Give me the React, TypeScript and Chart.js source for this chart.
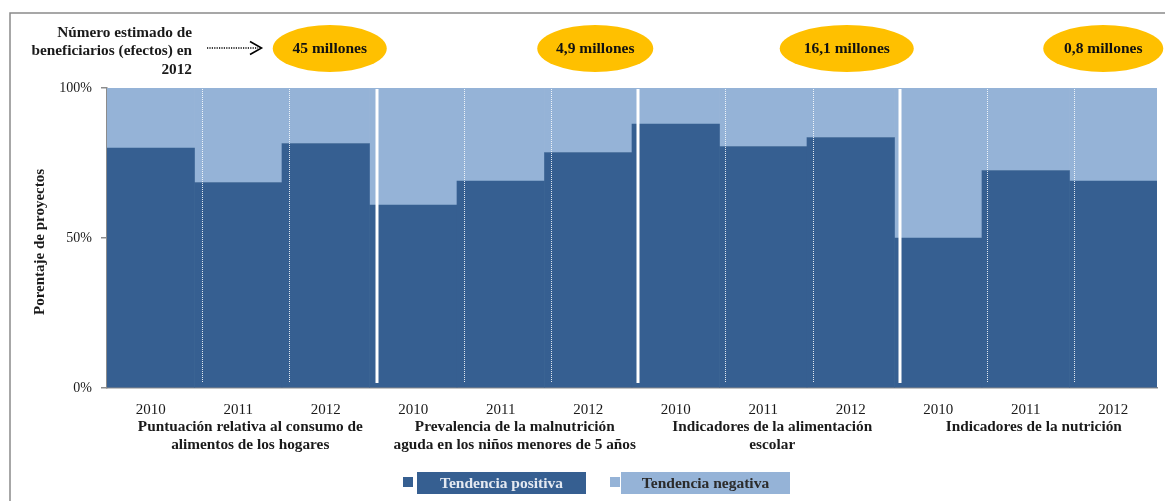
import React, { useEffect, useRef } from "react";
import { Chart, registerables } from "chart.js";
Chart.register(...registerables);

const years = ["2010", "2011", "2012", "2010", "2011", "2012", "2010", "2011", "2012", "2010", "2011", "2012"];
const positiveTrend = [80, 68.5, 81.5, 61, 69, 78.5, 88, 80.5, 83.5, 50, 72.5, 69];
const negativeTrend = [20, 31.5, 18.5, 39, 31, 21.5, 12, 19.5, 16.5, 50, 27.5, 31];
const groupLabels = [
  ["Puntuación relativa al consumo de", "alimentos de los hogares"],
  ["Prevalencia de la malnutrición", "aguda en los niños menores de 5 años"],
  ["Indicadores de la alimentación", "escolar"],
  ["Indicadores de la nutrición"],
];
const beneficiaries = ["45 millones", "4,9 millones", "16,1 millones", "0,8 millones"];
const beneficiariesTitle = ["Número estimado de", "beneficiarios (efectos) en", "2012"];
const yTicks = [0, 50, 100];
const yTitle = "Porentaje de proyectos";
const seriesNames = ["Tendencia positiva", "Tendencia negativa"];

const DARK = "#365F91";
const LIGHT = "#95B3D7";
const FONT = "'Liberation Serif', serif";

const decor = {
  id: "decor",
  afterDatasetsDraw(chart: any) {
    const { ctx, chartArea } = chart;
    const n = years.length;
    const w = (chartArea.right - chartArea.left) / n;
    ctx.save();
    for (let i = 1; i < n; i++) {
      const px = Math.round(chartArea.left + i * w + 8 - i * 0.3);
      ctx.beginPath();
      if (i % 3 === 0) {
        ctx.strokeStyle = "#ffffff";
        ctx.lineWidth = 3;
        ctx.setLineDash([]);
      } else {
        ctx.strokeStyle = "rgba(255,255,255,0.85)";
        ctx.lineWidth = 1;
        ctx.setLineDash([1, 1]);
      }
      const off = i % 3 === 0 ? 0 : 0.5;
      ctx.moveTo(px + off, chartArea.top + 1);
      ctx.lineTo(px + off, chartArea.bottom - 5);
      ctx.stroke();
    }
    ctx.restore();
  },
  afterDraw(chart: any) {
    const { ctx, scales } = chart;
    const x = scales.x;
    ctx.save();
    // outer border
    ctx.strokeStyle = "#8a8a8a";
    ctx.lineWidth = 1.5;
    ctx.beginPath();
    ctx.moveTo(10, 520);
    ctx.lineTo(10, 13);
    ctx.lineTo(1200, 13);
    ctx.stroke();

    // group labels
    ctx.fillStyle = "#1a1a1a";
    ctx.font = `bold 15.3px ${FONT}`;
    ctx.textAlign = "center";
    ctx.textBaseline = "middle";
    const groupOffsets = [12, 14, 9, 8];
    groupLabels.forEach((lines, g) => {
      const cx = x.getPixelForValue(g * 3 + 1) + groupOffsets[g];
      lines.forEach((ln, k) => ctx.fillText(ln, cx, 427 + k * 18.5));
    });

    // y title
    ctx.save();
    ctx.translate(40, 242);
    ctx.rotate(-Math.PI / 2);
    ctx.font = `bold 15px ${FONT}`;
    ctx.fillText(yTitle, 0, 0);
    ctx.restore();

    // beneficiaries heading
    ctx.textAlign = "right";
    ctx.font = `bold 15.3px ${FONT}`;
    beneficiariesTitle.forEach((ln, k) => ctx.fillText(ln, 192, 33 + k * 18.5));

    // arrow
    ctx.strokeStyle = "#000";
    ctx.lineWidth = 1.3;
    ctx.setLineDash([1.2, 1.2]);
    ctx.beginPath();
    ctx.moveTo(207, 48);
    ctx.lineTo(258, 48);
    ctx.stroke();
    ctx.setLineDash([]);
    ctx.lineWidth = 1.6;
    ctx.beginPath();
    ctx.moveTo(250, 41.5);
    ctx.lineTo(261.5, 48);
    ctx.lineTo(250, 54.5);
    ctx.stroke();

    // ovals
    const ovalDx = [4, 7, -4, -10];
    const ovalRx = [57, 58, 67, 60];
    ctx.textAlign = "center";
    beneficiaries.forEach((t, g) => {
      const cx = x.getPixelForValue(g * 3 + 2) + ovalDx[g];
      ctx.fillStyle = "#FFC000";
      ctx.beginPath();
      ctx.ellipse(cx, 48.5, ovalRx[g], 23.5, 0, 0, Math.PI * 2);
      ctx.fill();
      ctx.fillStyle = "#111";
      ctx.font = `bold 15.5px ${FONT}`;
      ctx.fillText(t, cx, 48.5);
    });

    // legend
    ctx.fillStyle = DARK;
    ctx.fillRect(403, 477, 10, 10);
    ctx.fillRect(417, 472, 169, 22);
    ctx.fillStyle = LIGHT;
    ctx.fillRect(610, 477, 10, 10);
    ctx.fillRect(621, 472, 169, 22);
    ctx.font = `bold 15.5px ${FONT}`;
    ctx.fillStyle = "#e4e9f1";
    ctx.fillText(seriesNames[0], 501.5, 483.5);
    ctx.fillStyle = "#2b2b2b";
    ctx.fillText(seriesNames[1], 705.5, 483.5);
    ctx.restore();
  },
};

export default function App() {
  const ref = useRef<HTMLCanvasElement>(null);
  useEffect(() => {
    if (!ref.current) return;
    const chart = new Chart(ref.current, {
      type: "bar",
      data: {
        labels: years,
        datasets: [
          { label: seriesNames[0], data: positiveTrend, backgroundColor: DARK, barPercentage: 1, categoryPercentage: 1 },
          { label: seriesNames[1], data: negativeTrend, backgroundColor: LIGHT, barPercentage: 1, categoryPercentage: 1 },
        ],
      },
      options: {
        responsive: true,
        maintainAspectRatio: false,
        animation: false,
        layout: { padding: { top: 88, right: 8, left: 0, bottom: 0 } },
        plugins: { legend: { display: false }, tooltip: { enabled: false } },
        scales: {
          x: {
            stacked: true,
            grid: { display: false },
            border: { display: true, color: "#8c8c8c", width: 1.5 },
            ticks: { color: "#1a1a1a", font: { family: FONT, size: 15 }, padding: 5, maxRotation: 0, autoSkip: false },
            afterFit: (s: any) => { s.height = 113; },
          },
          y: {
            stacked: true,
            min: 0,
            max: 100,
            afterBuildTicks: (s: any) => { s.ticks = yTicks.map((v) => ({ value: v })); },
            grid: { drawOnChartArea: false, drawTicks: true, tickLength: 6, color: "#8c8c8c", lineWidth: 1.5 },
            border: { display: true, color: "#8c8c8c", width: 1.5 },
            ticks: { color: "#1a1a1a", font: { family: FONT, size: 14 }, padding: 9, callback: (v: any) => v + "%" },
            afterFit: (s: any) => { s.width = 107; },
          },
        },
      },
      plugins: [decor],
    });
    return () => chart.destroy();
  }, []);
  return (
    <div style={{ position: "absolute", left: 0, top: 0, width: 1165, height: 501, background: "#fff" }}>
      <canvas ref={ref} />
    </div>
  );
}
